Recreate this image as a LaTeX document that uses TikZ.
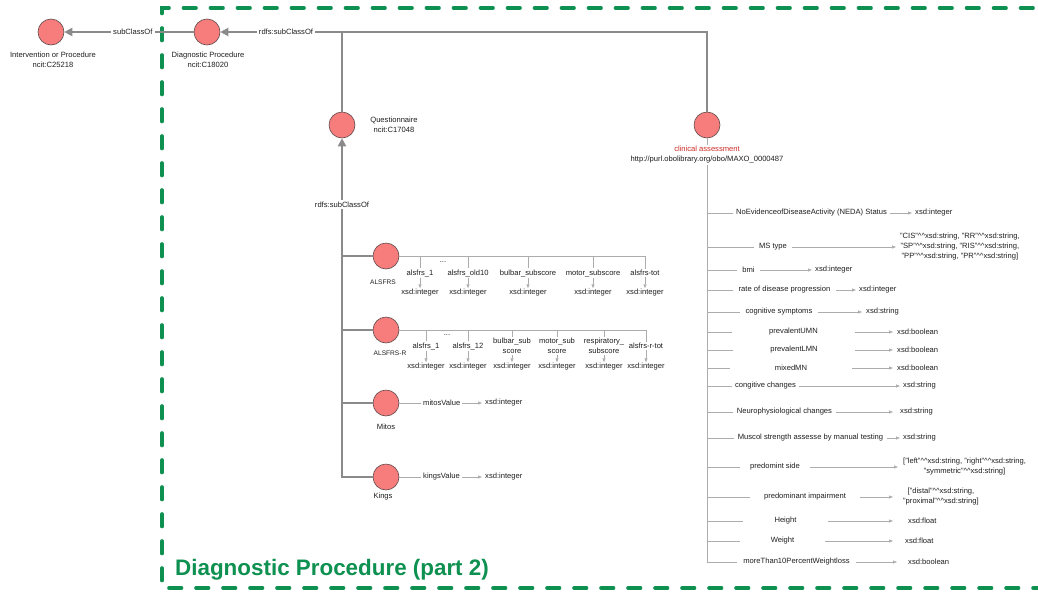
\documentclass[tikz,border=0pt]{standalone}
\usepackage{fontspec}
\setmainfont{Liberation Sans}
\usetikzlibrary{arrows.meta}

\definecolor{nodefill}{RGB}{247,124,124}
\definecolor{nodeedge}{RGB}{95,75,75}
\definecolor{linkgray}{RGB}{138,138,138}
\definecolor{propgray}{RGB}{172,172,172}
\definecolor{framegreen}{RGB}{14,145,80}
\definecolor{termred}{RGB}{206,45,40}
\definecolor{ink}{RGB}{30,30,30}

% datatype marker ^^
\newcommand{\hatpair}{\textasciicircum\textasciicircum}

% one property row of the clinical assessment column:
% #1 name, #2 y, #3/#4 gap around the label, #5 label, #6 arrow tip x, #7 value text x, #8 value
\newcommand{\proprow}[8]{%
  \coordinate (#1r) at (707,#2);
  \node[lbl,inner sep=0pt,minimum width={#4-#3}] (#1l) at ({(#3+#4)/2},#2) {#5};
  \node[lbl,anchor=west,inner xsep={#7-#6},inner ysep=1pt] (#1v) at (#6,#2) {#8};
  \draw[prop] (#1r) -- (#1l);
  \draw[proparrow] (#1l) -- (#1v);
}

\begin{document}
\begin{tikzpicture}[x=1pt,y=-1pt,
  class/.style={circle,minimum size=26pt,inner sep=0pt,fill=nodefill,draw=nodeedge,line width=0.6pt},
  lbl/.style={font=\fontsize{7.6}{10}\selectfont,text=ink,inner sep=1pt,align=center},
  smalllbl/.style={font=\fontsize{6.6}{8}\selectfont,text=ink,inner sep=1pt},
  edgelbl/.style={lbl,fill=white,inner sep=2pt},
  link/.style={draw=linkgray,line width=2.4pt},
  linkarrow/.style={link,-{Triangle[length=8pt,width=8pt]}},
  prop/.style={draw=propgray,line width=0.7pt},
  proparrow/.style={prop,-{Triangle[length=4pt,width=3pt]}},
]
\useasboundingbox (0,0) rectangle (1038,592);

% dashed frame of the section
\draw[framegreen,line width=3.6pt,line cap=round,dash pattern=on 12.5pt off 14.5pt]
  (1060,8) -- (162,8) -- (162,588) -- (1060,588);
\node[anchor=base west,inner sep=0pt,text=framegreen,font=\fontsize{22.4}{26}\selectfont\bfseries]
  (title) at (175,575) {Diagnostic Procedure (part 2)};

% classes
\node[class] (ip) at (51,32) {};
\node[lbl] (iplbl) at (53,60) {Intervention or Procedure\\ncit:C25218};
\node[class] (dp) at (207,32) {};
\node[lbl] (dplbl) at (208,60) {Diagnostic Procedure\\ncit:C18020};
\node[class] (q) at (342,125) {};
\node[lbl] (qlbl) at (394,125) {Questionnaire\\ncit:C17048};
\node[class] (ca) at (707,125) {};

\coordinate (j) at (342,32);
\coordinate (k) at (707,32);

\draw[linkarrow] (dp) -- node[edgelbl,pos=0.47] (sc1) {subClassOf} (ip);
\draw[linkarrow] (j) -- node[edgelbl,pos=0.46] (sc2) {rdfs:subClassOf} (dp);
\draw[link] (ca) -- (k) -- (j) -- (q);

% questionnaire subclasses
\node[class] (alsfrs) at (386,256) {};
\node[smalllbl] (alsfrslbl) at (383,282) {ALSFRS};
\node[class] (alsfrsr) at (386,330) {};
\node[smalllbl] (alsfrsrlbl) at (390,353) {ALSFRS-R};
\node[class] (mitos) at (386,403) {};
\node[lbl] (mitoslbl) at (386,427) {Mitos};
\node[class] (kings) at (386,477) {};
\node[lbl] (kingslbl) at (383,497) {Kings};

\coordinate (qb) at (342,477);
\coordinate (b1) at (342,256);
\coordinate (b2) at (342,330);
\coordinate (b3) at (342,403);
\draw[linkarrow] (kings) -- (qb) -- node[edgelbl,pos=0.805] (sc3) {rdfs:subClassOf} (q);
\draw[link] (b1) -- (alsfrs);
\draw[link] (b2) -- (alsfrsr);
\draw[link] (b3) -- (mitos);

% ALSFRS properties
\coordinate (ae) at (645,256);
\draw[prop] (alsfrs) -- (ae);
\node[lbl] (adots) at (443,262) {...};
\foreach \x/\n/\t in {420/1/alsfrs\_1, 468/2/alsfrs\_old10, 528/3/bulbar\_subscore, 593/4/motor\_subscore, 645/5/alsfrs-tot} {
  \coordinate (at\n) at (\x,256);
  \node[lbl] (ap\n) at (\x,273) {\t};
  \node[lbl] (av\n) at (\x,293) {xsd:integer};
  \draw[prop] (at\n) -- (ap\n);
  \draw[proparrow] (ap\n) -- (av\n);
}

% ALSFRS-R properties
\coordinate (re) at (646,330);
\draw[prop] (alsfrsr) -- (re);
\node[lbl] (rdots) at (447,335) {...};
\foreach \x/\n/\t in {426/1/alsfrs\_1, 468/2/alsfrs\_12, 512/3/bulbar\_sub\\score, 557/4/motor\_sub\\score, 604/5/respiratory\_\\subscore, 646/6/alsfrs-r-tot} {
  \coordinate (rt\n) at (\x,330);
  \node[lbl] (rp\n) at (\x,346) {\t};
  \node[lbl] (rv\n) at (\x,367) {xsd:integer};
  \draw[prop] (rt\n) -- (rp\n);
  \draw[proparrow] (rp\n) -- (rv\n);
}

% Mitos and Kings values
\node[lbl,anchor=west,inner xsep=2pt] (mv) at (421,403) {mitosValue};
\node[lbl,anchor=west,inner xsep=3pt] (mx) at (482,403) {xsd:integer};
\draw[prop] (mitos) -- (mv);
\draw[proparrow] (mv) -- (mx);
\node[lbl,anchor=west,inner xsep=2pt] (kv) at (421,477) {kingsValue};
\node[lbl,anchor=west,inner xsep=3pt] (kx) at (482,477) {xsd:integer};
\draw[prop] (kings) -- (kv);
\draw[proparrow] (kv) -- (kx);

% clinical assessment column
\coordinate (cb) at (707,562);
\draw[prop] (ca) -- (cb);
\node[lbl,fill=white] (calbl) at (707,155) {\textcolor{termred}{clinical assessment}\\http://purl.obolibrary.org/obo/MAXO\_0000487};

\proprow{neda}{213}{733}{890}{NoEvidenceofDiseaseActivity (NEDA) Status}{912}{915}{xsd:integer}
\proprow{ms}{247}{754}{792}{MS type}{896}{900}{"CIS"\hatpair xsd:string, "RR"\hatpair xsd:string,\\"SP"\hatpair xsd:string, "RIS"\hatpair xsd:string,\\"PP"\hatpair xsd:string, "PR"\hatpair xsd:string]}
\proprow{bmi}{270}{737}{760}{bmi}{812}{815}{xsd:integer}
\proprow{rate}{290}{733}{836}{rate of disease progression}{856}{859}{xsd:integer}
\proprow{cogs}{312}{740}{818}{cognitive symptoms}{862}{866}{xsd:string}
\proprow{umn}{332}{732}{855}{prevalentUMN}{893}{897}{xsd:boolean}
\proprow{lmn}{350}{733}{855}{prevalentLMN}{893}{897}{xsd:boolean}
\proprow{mmn}{368}{730}{852}{mixedMN}{893}{897}{xsd:boolean}
\proprow{cogc}{386}{732}{799}{congitive changes}{900}{903}{xsd:string}
\proprow{neuro}{412}{733}{836}{Neurophysiological changes}{893}{900}{xsd:string}
\proprow{musc}{438}{734}{887}{Muscol strength assesse by manual testing}{900}{903}{xsd:string}
\proprow{side}{467}{740}{810}{predomint side}{898}{903}{["left"\hatpair xsd:string, "right"\hatpair xsd:string,\\"symmetric"\hatpair xsd:string]}
\proprow{imp}{497}{750}{860}{predominant impairment}{893}{903}{["distal"\hatpair xsd:string,\\"proximal"\hatpair xsd:string]}
\proprow{height}{521}{743}{828}{Height}{893}{908}{xsd:float}
\proprow{weight}{541}{740}{825}{Weight}{893}{905}{xsd:float}
\proprow{wloss}{562}{737}{856}{moreThan10PercentWeightloss}{897}{908}{xsd:boolean}

\end{tikzpicture}
\end{document}
